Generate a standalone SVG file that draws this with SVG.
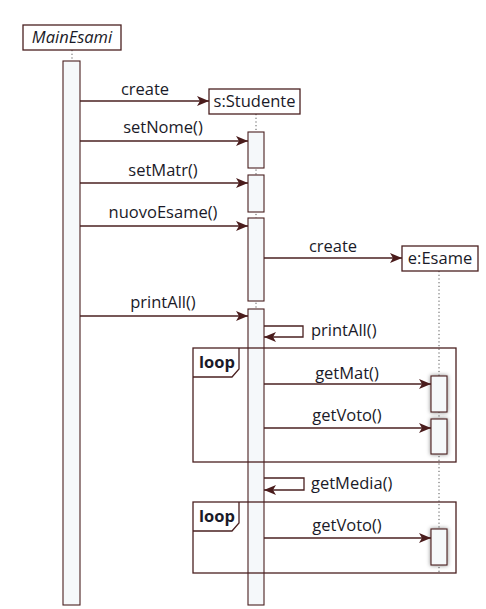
<svg xmlns="http://www.w3.org/2000/svg" width="486" height="609" viewBox="0 0 486 609">
<style>
.ln{stroke:#4a2020;stroke-width:1.3;fill:none}
.box{fill:#ffffff;stroke:#4a2020;stroke-width:1.3}
.act{fill:#f5f8fa;stroke:#4a2020;stroke-width:1.1}
.life{stroke:#555;stroke-width:1;stroke-dasharray:1.2 2.5;fill:none}
text{font-family:"Open Sans",Lato,"Liberation Sans",sans-serif;font-size:16.5px;fill:#1a1a28}
.c{text-anchor:middle}
.b{font-weight:bold}
</style>
<defs>
<marker id="ah" viewBox="0 0 12 10" refX="12" refY="5" markerWidth="12" markerHeight="10" markerUnits="userSpaceOnUse" orient="auto">
<path d="M0,0 L12,5 L0,10 L3,5 Z" fill="#4a1c1c"/>
</marker>
<filter id="sh" x="-50%" y="-30%" width="200%" height="160%">
<feGaussianBlur in="SourceAlpha" stdDeviation="2"/>
<feComponentTransfer><feFuncA type="linear" slope="0.5"/></feComponentTransfer>
<feMerge><feMergeNode/><feMergeNode in="SourceGraphic"/></feMerge>
</filter>
</defs>

<g id="lifelines">
<line class="life" x1="72" y1="50" x2="72" y2="61"/>
<line class="life" x1="256" y1="114" x2="256" y2="309"/>
<line class="life" x1="439" y1="271" x2="439" y2="572"/>
</g>

<g id="MainEsami">
<rect class="box" x="23" y="25" width="98" height="25"/>
<text x="72" y="43" class="c" font-style="italic">MainEsami</text>
<rect class="act" x="63" y="61" width="17" height="544"/>
</g>

<g id="s_Studente">
<rect class="box" x="209" y="89" width="91" height="25"/>
<text x="254.5" y="107" class="c">s:Studente</text>
<rect class="act" x="248" y="132" width="16" height="36"/>
<rect class="act" x="248" y="175" width="16" height="37"/>
<rect class="act" x="248" y="218" width="16" height="83"/>
<rect class="act" x="248" y="309" width="16" height="296"/>
</g>

<g id="e_Esame">
<rect class="box" x="402" y="246" width="76" height="25"/>
<text x="440" y="264" class="c">e:Esame</text>
<rect class="act" x="431" y="376" width="16" height="36" filter="url(#sh)"/>
<rect class="act" x="431" y="419" width="16" height="35" filter="url(#sh)"/>
<rect class="act" x="431" y="529" width="16" height="36" filter="url(#sh)"/>
</g>

<g id="loop1">
<rect class="ln" x="193" y="348" width="263" height="114"/>
<path class="ln" d="M193,377 L232,377 L239,369 L239,348"/>
<text x="199" y="368" class="b">loop</text>
</g>

<g id="loop2">
<rect class="ln" x="193" y="502" width="263" height="71"/>
<path class="ln" d="M193,531 L232,531 L239,523 L239,502"/>
<text x="199" y="522" class="b">loop</text>
</g>

<g id="connectors">
<line class="ln" x1="80" y1="101" x2="209" y2="101" marker-end="url(#ah)"/>
<line class="ln" x1="80" y1="141" x2="248" y2="141" marker-end="url(#ah)"/>
<line class="ln" x1="80" y1="183" x2="248" y2="183" marker-end="url(#ah)"/>
<line class="ln" x1="80" y1="226" x2="248" y2="226" marker-end="url(#ah)"/>
<line class="ln" x1="264" y1="258" x2="402" y2="258" marker-end="url(#ah)"/>
<line class="ln" x1="80" y1="316" x2="248" y2="316" marker-end="url(#ah)"/>
<path class="ln" d="M264,326 L303,326 L303,337 L264,337" marker-end="url(#ah)"/>
<line class="ln" x1="264" y1="384" x2="431" y2="384" marker-end="url(#ah)"/>
<line class="ln" x1="264" y1="428" x2="431" y2="428" marker-end="url(#ah)"/>
<path class="ln" d="M264,478 L304,478 L304,490 L264,490" marker-end="url(#ah)"/>
<line class="ln" x1="264" y1="538" x2="431" y2="538" marker-end="url(#ah)"/>
</g>

<g id="labels">
<text x="145" y="95" class="c">create</text>
<text x="163" y="133" class="c">setNome()</text>
<text x="163" y="176" class="c">setMatr()</text>
<text x="163" y="218" class="c">nuovoEsame()</text>
<text x="333" y="252" class="c">create</text>
<text x="163" y="308" class="c">printAll()</text>
<text x="311" y="336">printAll()</text>
<text x="347" y="379" class="c">getMat()</text>
<text x="347" y="421" class="c">getVoto()</text>
<text x="311" y="489">getMedia()</text>
<text x="347" y="531" class="c">getVoto()</text>
</g>
</svg>
